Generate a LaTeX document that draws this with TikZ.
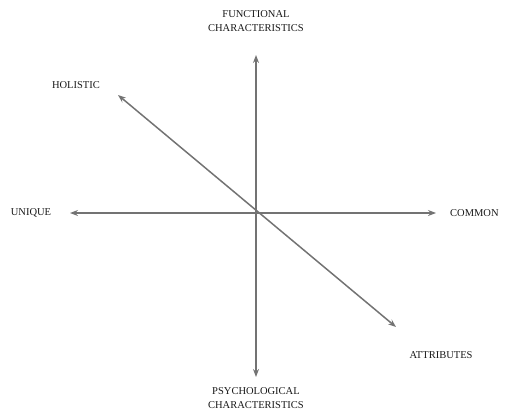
\documentclass[tikz,border=0pt]{standalone}
\usepackage{fontspec}
\setmainfont{Liberation Serif}
\usepackage{tikz}
\usetikzlibrary{arrows.meta}

\begin{document}
\begin{tikzpicture}[x=1pt,y=-1pt,>={Stealth[length=8pt,width=6pt]},
  axis/.style={draw=black!55,line width=1.5pt,<->},
  lbl/.style={font=\fontsize{10.5}{14}\selectfont,text=black!90,align=center,inner sep=0pt}]
  \useasboundingbox (0,0) rectangle (509,415);
  % end points of the three axes
  \coordinate (top) at (256,55);
  \coordinate (bot) at (256,377);
  \coordinate (lft) at (70,213);
  \coordinate (rgt) at (436,213);
  \coordinate (nw) at (118,95);
  \coordinate (se) at (396,327);
  \draw[axis] (bot) -- (top);
  \draw[axis] (lft) -- (rgt);
  \draw[axis] (nw) -- (se);
  % labels
  \node[lbl] (func) at (256,21) {FUNCTIONAL\\CHARACTERISTICS};
  \node[lbl] (psych) at (256,398) {PSYCHOLOGICAL\\CHARACTERISTICS};
  \node[lbl] (uniq) at (31,213) {UNIQUE};
  \node[lbl,anchor=west] (comm) at (450,213) {COMMON};
  \node[lbl] (hol) at (76,85) {HOLISTIC};
  \node[lbl] (attr) at (441,355) {ATTRIBUTES};
\end{tikzpicture}
\end{document}
